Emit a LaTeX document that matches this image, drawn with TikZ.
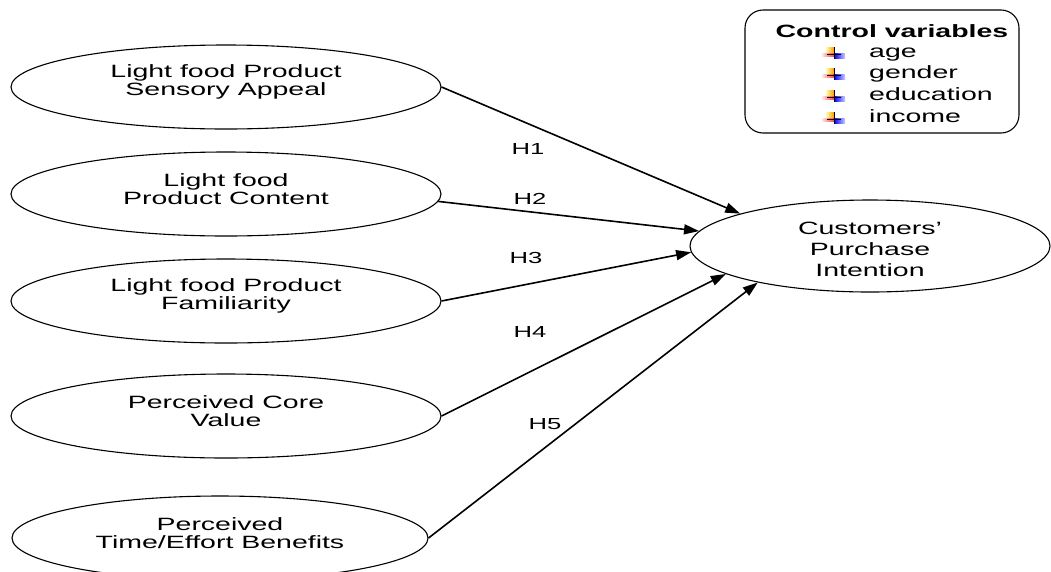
\documentclass[tikz,border=0pt]{standalone}
\usepackage{fontspec}
\setmainfont{Liberation Sans}[FakeStretch=1.6]
\usetikzlibrary{positioning}
\usetikzlibrary{shapes.geometric}
\usetikzlibrary{arrows.meta}
\tikzset{
	every node/.style = {font=\fontsize{17.8}{18.3}\selectfont, align=center},
	factor/.style = {draw, ellipse, line width=1.1pt, minimum width=430pt, minimum height=84pt, inner sep=0pt},
	outcome/.style = {draw, ellipse, line width=1.1pt, minimum width=360pt, minimum height=92pt, inner sep=0pt},
	hyp/.style = {-{Triangle[length=15pt,width=10pt]}, line width=1.6pt},
	hlab/.style = {font=\fontsize{16}{16}\selectfont},
	ctrlbox/.style = {draw, line width=1.1pt, rounded corners=18pt, minimum width=274pt, minimum height=123pt},
	ctrlmark/.pic = {
		\shade[left color=yellow!30, right color=orange!80!yellow] (-8,-7) rectangle (0,-1);
		\shade[left color=red!10, right color=red!75] (-12,-1) rectangle (0,2);
		\shade[left color=blue, right color=blue!20] (0,-1) rectangle (11,4);
		\draw[line width=1pt] (0,-7) -- (0,5) (-7,0) -- (7,0);
	}
}
\begin{document}
\begin{tikzpicture}[x=1pt, y=-1pt]
		\useasboundingbox (0,0) rectangle (1051,571);
		% factors
		\foreach \n/\x/\y/\w/\t in {appeal/226/87/430/{Light food Product\\Sensory Appeal},
				content/226/194/430/{Light food\\Product Content},
				famil/226/301/430/{Light food Product\\Familiarity},
				value/226/416/430/{Perceived Core\\Value},
				benefit/220/538/416/{Perceived\\Time/Effort Benefits}}
		{
			\node[factor, minimum width=\w pt] (\n) at (\x,\y) {};
			\node (\n-t) at (\x,\y-5) {\t};
		}
		% outcome
		\node[outcome] (intent) at (870,246) {};
		\node[font=\fontsize{17.8}{21}\selectfont] (intent-t) at (870,249) {Customers’\\Purchase\\Intention};
		
		% hypotheses
		\draw[hyp] (appeal.east) -- (intent.166);
		\draw[hyp] (content.358) -- (intent.175);
		\draw[hyp] (famil.east) -- (intent.182.5);
		\draw[hyp] (value.east) -- (intent.191);
		\draw[hyp] (benefit.east) -- (intent.198);
		
		\node[hlab] (h1) at (528,149) {H1};
		\node[hlab] (h2) at (530,199) {H2};
		\node[hlab] (h3) at (526,258) {H3};
		\node[hlab] (h4) at (530,332) {H4};
		\node[hlab] (h5) at (545,424) {H5};
		
		% controls
		\node[ctrlbox] (ctrl) at (882,71.5) {};
		\node[anchor=base] (ctrl-t) at (892,37) {\bfseries Control variables};
		\foreach \n/\y in {age/57, gender/78, education/100, income/122}
		{
			\pic at (834,\y-3) {ctrlmark};
			\node[anchor=base west, inner sep=0pt] (\n) at (869,\y) {\n};
		}
\end{tikzpicture}
\end{document}
